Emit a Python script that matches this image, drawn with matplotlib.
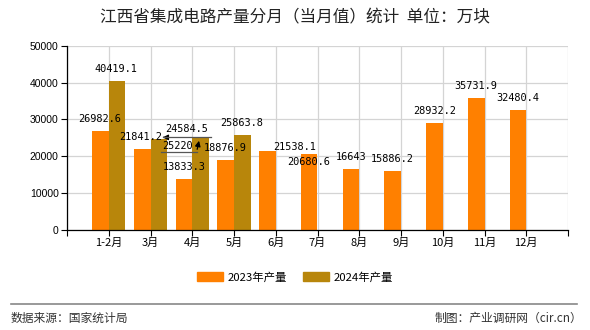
import matplotlib
matplotlib.use("Agg")
import matplotlib.pyplot as plt
from matplotlib.lines import Line2D
from matplotlib.patches import Patch
import numpy as np

plt.rcParams['font.family'] = ['Noto Sans CJK SC', 'DejaVu Sans']

# Data
months = ['1-2月', '3月', '4月', '5月', '6月', '7月', '8月', '9月', '10月', '11月', '12月']
prod_2023 = [26982.6, 21841.2, 13833.3, 18876.9, 21538.1, 20680.6, 16643, 15886.2, 28932.2, 35731.9, 32480.4]
prod_2024 = [40419.1, 24584.5, 25220, 25863.8]
labels_2023 = ['26982.6', '21841.2', '13833.3', '18876.9', '21538.1', '20680.6', '16643', '15886.2', '28932.2', '35731.9', '32480.4']
labels_2024 = ['40419.1', '24584.5', '25220', '25863.8']

c23 = '#ff8000'
c24 = '#b8860b'

fig = plt.figure(figsize=(5.9, 3.3), dpi=100)
ax = fig.add_axes([67 / 590, 1 - 230 / 330, (568 - 67) / 590, (230 - 45.7) / 330])

x = np.arange(len(months))
x24 = np.arange(len(prod_2024))
w = 0.4
ax.bar(x - w / 2, prod_2023, width=w, color=c23, zorder=2)
ax.bar(x24 + w / 2, prod_2024, width=w, color=c24, zorder=2)

ax.set_xlim(-1, 11)
ax.set_ylim(0, 50000)
ax.set_yticks(range(0, 50001, 10000))
ax.set_xticks(range(-1, 12))
ax.set_xticklabels([''] + months + [''])
ax.tick_params(axis='y', labelsize=7.5, length=4, width=0.8, pad=2)
ax.tick_params(axis='x', labelsize=8, length=4, width=0.8, pad=2)
for lab in ax.get_yticklabels():
    lab.set_family('Liberation Sans')
ax.grid(True, color='#d4d4d4', linewidth=0.9, zorder=0)
ax.set_axisbelow(True)
for s in ['top', 'right']:
    ax.spines[s].set_visible(False)
for s in ['left', 'bottom']:
    ax.spines[s].set_linewidth(0.9)

# value labels (pixel offsets from bar top)
off23 = {0: (-1, 12), 1: (-2, 12), 4: (27, 3.5), 5: (-1, -8.5)}
off24 = {1: (27.5, 10), 2: (-23.5, -9)}
lab_font = dict(family='DejaVu Sans Mono', fontsize=7.4, color='black',
                ha='center', va='center', zorder=5)
for i, (v, t) in enumerate(zip(prod_2023, labels_2023)):
    dx, dy = off23.get(i, (0, 12))
    ax.annotate(t, xy=(i - w / 2, v), xytext=(dx, dy), textcoords='offset pixels', **lab_font)
for i, (v, t) in enumerate(zip(prod_2024, labels_2024)):
    dx, dy = off24.get(i, (-1, 12))
    ax.annotate(t, xy=(i + w / 2, v), xytext=(dx, dy), textcoords='offset pixels', **lab_font)

# leader lines for the displaced 2024 labels
fig.canvas.draw()
bx, by = ax.transData.transform((1 + w / 2, prod_2024[1]))
fig.add_artist(Line2D([bx + 52, bx + 4], [by + 2, by + 2], color='#555555', lw=0.9, transform=None, zorder=6))
ax.annotate('', xy=(bx + 1, by + 2), xycoords='figure pixels', xytext=(bx + 8, by + 2),
            textcoords='figure pixels', arrowprops=dict(arrowstyle='-|>', color='black', lw=0.9, mutation_scale=8))
bx, by = ax.transData.transform((2 + w / 2, prod_2024[2]))
fig.add_artist(Line2D([bx - 40, bx - 4], [by - 15, by - 15], color='#555555', lw=0.9, transform=None, zorder=6))
ax.annotate('', xy=(bx - 1, by - 1), xycoords='figure pixels', xytext=(bx - 4, by - 15),
            textcoords='figure pixels', arrowprops=dict(arrowstyle='-|>', color='black', lw=0.9, mutation_scale=8))

fig.text(0.5, 1 - 18 / 330, '江西省集成电路产量分月（当月值）统计  单位：万块',
         ha='center', va='center', fontsize=12, color='#222222')

handles = [Patch(color=c23, label='2023年产量'), Patch(color=c24, label='2024年产量')]
fig.legend(handles=handles, loc='center', bbox_to_anchor=(0.5, 1 - 277 / 330), ncol=2,
           frameon=False, fontsize=8.2, handlelength=2.3, handleheight=0.9,
           handletextpad=0.4, columnspacing=1.4)

fig.add_artist(Line2D([11 / 590, 577 / 590], [1 - 304 / 330] * 2, color='#888888', lw=1.2))
fig.text(11 / 590, 1 - 318 / 330, '数据来源：国家统计局', ha='left', va='center', fontsize=8.5, color='#333333')
fig.text(582 / 590, 1 - 318 / 330, '制图：产业调研网（cir.cn）', ha='right', va='center', fontsize=8.5, color='#333333')

fig.savefig('out.png', dpi=100)
